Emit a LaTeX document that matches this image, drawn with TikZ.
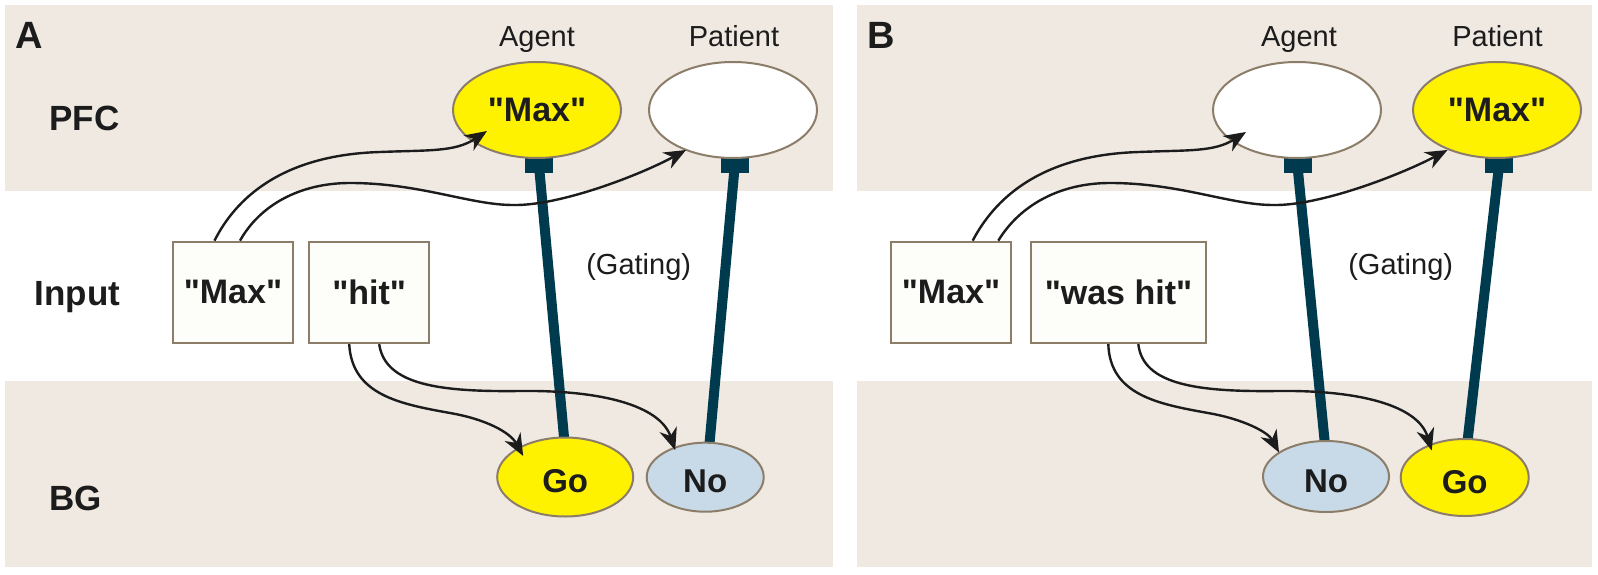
\documentclass[tikz,border=0pt]{standalone}
\usepackage{fontspec}
\setmainfont[Ligatures=TeXOff]{Liberation Sans}
\usetikzlibrary{shapes.geometric,arrows.meta,calc}
\pgfdeclarelayer{bands}
\pgfdeclarelayer{gates}
\pgfsetlayers{bands,gates,main}
\definecolor{bandtan}{RGB}{239,233,226}
\definecolor{nodeborder}{RGB}{140,125,105}
\definecolor{goyellow}{RGB}{255,242,0}
\definecolor{noblue}{RGB}{200,218,232}
\definecolor{gatecol}{RGB}{0,58,78}
\definecolor{boxfill}{RGB}{253,253,250}
\definecolor{inkblack}{RGB}{28,28,28}
\tikzset{
  band/.style={fill=bandtan, draw=none},
  pfcnode/.style={ellipse, draw=nodeborder, line width=2pt, minimum width=168pt, minimum height=96pt, inner sep=0pt,
    text=inkblack, font=\bfseries\fontsize{34}{40}\selectfont},
  bgnode/.style={ellipse, draw=nodeborder, line width=2pt, inner sep=0pt, text=inkblack,
    font=\bfseries\fontsize{33}{40}\selectfont, text height=31pt, text depth=0pt},
  gonode/.style={bgnode, fill=goyellow},
  nonode/.style={bgnode, fill=noblue},
  inbox/.style={rectangle, draw=nodeborder, line width=2.5pt, fill=boxfill, minimum height=101pt, inner sep=0pt,
    text=inkblack, font=\bfseries\fontsize{34}{40}\selectfont},
  proj/.style={draw=inkblack, line width=2.4pt, -{Stealth[length=22pt,width=18pt,inset=7pt]}},
  gateline/.style={draw=gatecol, line width=10pt},
  gatebar/.style={fill=gatecol},
  rowlabel/.style={font=\bfseries\fontsize{35}{40}\selectfont, text=inkblack, anchor=base west, inner sep=0pt},
  panellabel/.style={font=\bfseries\fontsize{38}{44}\selectfont, text=inkblack, anchor=base, inner sep=0pt},
  rolelabel/.style={font=\fontsize{29}{34}\selectfont, text=inkblack, anchor=base, inner sep=0pt},
}
\begin{document}
\begin{tikzpicture}[x=1pt,y=-1pt]
\useasboundingbox (0,0) rectangle (1598,575);
\begin{pgfonlayer}{bands}
  \fill[white] (0,0) rectangle (1598,575);
  \fill[band] (5,5) rectangle (833,191);
  \fill[band] (5,381) rectangle (833,567);
  \fill[band] (857,5) rectangle (1591.5,191);
  \fill[band] (857,381) rectangle (1591.5,567);
\end{pgfonlayer}

% ---------- Panel A ----------
\node[panellabel] (labA) at (29,49) {A};
\node[rowlabel] (pfcA) at (49.3,131) {PFC};
\node[rowlabel] (inA) at (34.3,305) {Input};
\node[rowlabel] (bgA) at (49.3,510) {BG};

\node[rolelabel] (agentlabA) at (537,46.7) {Agent};
\node[rolelabel] (patientlabA) at (734,46.7) {Patient};
\node[pfcnode, fill=goyellow] (agentA) at (537,110) {"Max"};
\node[pfcnode, fill=white] (patientA) at (733,110) {};

\node[inbox, minimum width=120pt] (maxA) at (233,292.4) {"Max"};
\node[inbox, minimum width=120pt] (hitA) at (369.2,292.4) {"hit"};

\node[gonode, minimum width=136pt, minimum height=79pt] (goA) at (565.2,477) {Go};
\node[nonode, minimum width=117pt, minimum height=69pt] (noA) at (705.2,477.2) {No};

\node[rolelabel] (gatingA) at (638.7,274) {(Gating)};

\begin{pgfonlayer}{gates}
  \draw[gateline] ([shift={(-0.8,5)}]goA.north) -- ($(agentA.south)+(2,7)$);
  \fill[gatebar] ($(agentA.south)+(-12,-1)$) rectangle ($(agentA.south)+(16,14)$);
  \draw[gateline] ([shift={(4,5)}]noA.north) -- ($(patientA.south)+(1.7,7)$);
  \fill[gatebar] ($(patientA.south)+(-12.3,-1)$) rectangle ($(patientA.south)+(15.7,14)$);
\end{pgfonlayer}

\draw[proj] ([xshift=-18.5pt]maxA.north) .. controls (235,200) and (280,155) .. (380,152)
   .. controls (430,150) and (455,152) .. ($(agentA.center)+(-50,21)$);
\draw[proj] ([xshift=7pt]maxA.north) .. controls (260,205) and (300,183) .. (350,183)
   .. controls (420,183) and (470,205) .. (513,205)
   .. controls (560,206) and (640,175) .. ($(patientA.center)+(-47,40)$);
\draw[proj] ([xshift=-20pt]hitA.south) .. controls (352,395) and (400,404) .. (450,413)
   .. controls (485,419) and (510,432) .. ($(goA.center)+(-42,-21)$);
\draw[proj] ([xshift=10pt]hitA.south) .. controls (385,385) and (440,392) .. (520,391)
   .. controls (600,390) and (660,405) .. ($(noA.center)+(-30,-27)$);

% ---------- Panel B ----------
\node[panellabel] (labB) at (881,49) {B};

\node[rolelabel] (agentlabB) at (1299,46.7) {Agent};
\node[rolelabel] (patientlabB) at (1497.5,46.7) {Patient};
\node[pfcnode, fill=white] (agentB) at (1297,110) {};
\node[pfcnode, fill=goyellow] (patientB) at (1497,110) {"Max"};

\node[inbox, minimum width=120pt] (maxB) at (951,292.4) {"Max"};
\node[inbox, minimum width=175pt] (hitB) at (1118.5,292.4) {"was hit"};

\node[nonode, minimum width=126pt, minimum height=71pt] (noB) at (1326,476.5) {No};
\node[gonode, minimum width=128pt, minimum height=77pt] (goB) at (1464.7,477.5) {Go};

\node[rolelabel] (gatingB) at (1400.7,274) {(Gating)};

\begin{pgfonlayer}{gates}
  \draw[gateline] ([shift={(-1,5)}]noB.north) -- ($(agentB.south)+(0.5,7)$);
  \fill[gatebar] ($(agentB.south)+(-13.5,-1)$) rectangle ($(agentB.south)+(14.5,14)$);
  \draw[gateline] ([shift={(2.6,5)}]goB.north) -- ($(patientB.south)+(2,7)$);
  \fill[gatebar] ($(patientB.south)+(-12,-1)$) rectangle ($(patientB.south)+(16,14)$);
\end{pgfonlayer}

\draw[proj] ([xshift=21.7pt]maxB.north) .. controls (994,200) and (1039,155) .. (1139,152)
   .. controls (1189,150) and (1214,152) .. ($(agentB.center)+(-51,22)$);
\draw[proj] ([xshift=47.3pt]maxB.north) .. controls (1020,205) and (1060,183) .. (1110,183)
   .. controls (1180,183) and (1230,205) .. (1273,205)
   .. controls (1320,206) and (1400,175) .. ($(patientB.center)+(-49.5,40)$);
\draw[proj] ([xshift=-10.2pt]hitB.south) .. controls (1110,395) and (1158,404) .. (1208,413)
   .. controls (1243,419) and (1268,432) .. ($(noB.center)+(-47,-24)$);
\draw[proj] ([xshift=19.8pt]hitB.south) .. controls (1143,385) and (1198,392) .. (1278,391)
   .. controls (1358,390) and (1418,405) .. ($(goB.center)+(-33,-27)$);
\end{tikzpicture}
\end{document}
